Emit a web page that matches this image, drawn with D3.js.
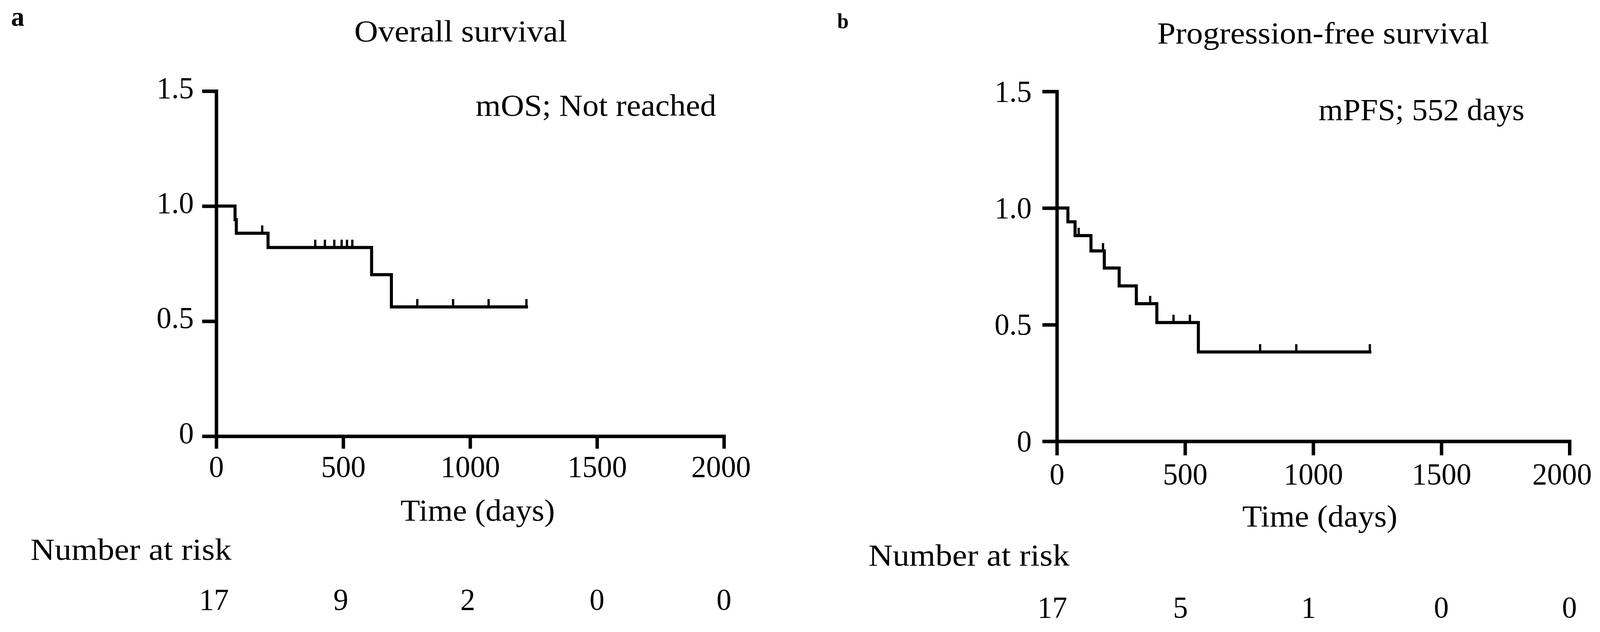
<!DOCTYPE html>
<html>
<head>
<meta charset="utf-8">
<script src="https://cdn.jsdelivr.net/npm/d3@7"></script>
<style>
  html, body { margin: 0; padding: 0; background: #fff; overflow: hidden; width: 100%; height: 100%; }
  svg { display: block; width: 100vw; height: 100vh; }
  text { font-family: "Liberation Serif", "Times New Roman", serif; fill: #000; }
</style>
</head>
<body>
<svg id="chart" viewBox="0 0 4195 1617" preserveAspectRatio="none"></svg>
<script>
// ---------- data ----------
const xTicks = [0, 500, 1000, 1500, 2000];
const yTicks = [0, 0.5, 1.0, 1.5];
const yTickLabels = ["0", "0.5", "1.0", "1.5"];

// Panel a: overall survival (step times in days, survival after step)
const osTimes = [0, 74, 79, 204, 612, 690, 1222];
const osSurv  = [1.0, 0.941, 0.882, 0.820, 0.702, 0.562, 0.562];
const osCensor = [181, 390, 428, 465, 494, 515, 536, 792, 933, 1073, 1222];
const osRisk = [17, 9, 2, 0, 0];

// Panel b: progression-free survival
const pfsTimes = [0, 43, 71, 133, 185, 243, 310, 390, 552, 1221];
const pfsSurv  = [1.0, 0.941, 0.882, 0.816, 0.743, 0.666, 0.590, 0.509, 0.383, 0.383];
const pfsCensor = [85, 180, 364, 455, 519, 793, 934, 1221];
const pfsRisk = [17, 5, 1, 0, 0];

const panels = [
  {
    letter: "a", title: "Overall survival", median: "mOS; Not reached",
    times: osTimes, surv: osSurv, censor: osCensor, risk: osRisk,
    x0: 567, x1: 1898, y0: 1116, y1: 233,
    yTick: 37, xTick: 32, yPad: 22, xPad: 17, yDy: 17, fs: 78, lastShift: -8, riskShift: -6,
    letterPos: [29, 66, 70], titlePos: [929, 106, 558], medPos: [1247, 296, 631],
    xLabPos: [1050, 1332, 405], nriskPos: [80, 1432, 527], riskY: 1560
  },
  {
    letter: "b", title: "Progression-free survival", median: "mPFS; 552 days",
    times: pfsTimes, surv: pfsSurv, censor: pfsCensor, risk: pfsRisk,
    x0: 2771, x1: 4115, y0: 1129, y1: 234,
    yTick: 38, xTick: 36, yPad: 28, xPad: 19, yDy: 25, fs: 78, lastShift: -20, riskShift: -12,
    letterPos: [2195, 72, 54], titlePos: [3034, 111, 870], medPos: [3457, 307, 540],
    xLabPos: [3257, 1347, 407], nriskPos: [2277, 1447, 527], riskY: 1580
  }
];

const svg = d3.select("#chart");

function stepValue(times, surv, t) {
  let v = surv[0];
  for (let i = 0; i < times.length; i++) { if (times[i] <= t) v = surv[i]; }
  return v;
}

panels.forEach(p => {
  const x = d3.scaleLinear().domain([0, 2000]).range([p.x0, p.x1]);
  const y = d3.scaleLinear().domain([0, 1.5]).range([p.y0, p.y1]);
  const g = svg.append("g");

  // Axes
  const yAxis = d3.axisLeft(y).tickValues(yTicks)
    .tickFormat((d, i) => yTickLabels[i])
    .tickSize(p.yTick).tickSizeOuter(0).tickPadding(p.yPad);
  const xAxis = d3.axisBottom(x).tickValues(xTicks)
    .tickFormat(d3.format("d"))
    .tickSize(p.xTick).tickSizeOuter(0).tickPadding(p.xPad);

  const gy = g.append("g").attr("transform", `translate(${p.x0},0)`).call(yAxis);
  const gx = g.append("g").attr("transform", `translate(0,${p.y0})`).call(xAxis);
  [gx, gy].forEach(a => {
    a.select(".domain").attr("stroke", "#000").attr("stroke-width", 9).attr("stroke-linecap", "square");
    a.selectAll(".tick line").attr("stroke", "#000").attr("stroke-width", 9);
    a.selectAll(".tick text").attr("font-family", "Liberation Serif").attr("font-size", p.fs).attr("fill", "#000");
  });
  gy.selectAll(".tick text").attr("dy", p.yDy);
  gx.selectAll(".tick text").filter(d => d === 2000).attr("dx", p.lastShift);

  // KM step curve
  const pts = p.times.map((t, i) => [t, p.surv[i]]);
  const line = d3.line().x(d => x(d[0])).y(d => y(d[1])).curve(d3.curveStepAfter);
  g.append("path").datum(pts)
    .attr("d", line).attr("fill", "none").attr("stroke", "#000")
    .attr("stroke-width", 8).attr("stroke-linejoin", "miter").attr("stroke-linecap", "square");

  // Censor marks
  g.selectAll(".cens").data(p.censor).enter().append("line")
    .attr("x1", d => x(d)).attr("x2", d => x(d))
    .attr("y1", d => y(stepValue(p.times, p.surv, d)))
    .attr("y2", d => y(stepValue(p.times, p.surv, d)) - 20)
    .attr("stroke", "#000").attr("stroke-width", 6);

  // Texts
  g.append("text").attr("x", p.letterPos[0]).attr("y", p.letterPos[1])
    .attr("font-size", p.letterPos[2]).attr("font-weight", "bold").text(p.letter);
  const txt = (pos, s) => g.append("text").attr("x", pos[0]).attr("y", pos[1])
    .attr("font-size", p.fs).attr("textLength", pos[2]).attr("lengthAdjust", "spacingAndGlyphs").text(s);
  txt(p.titlePos, p.title);
  txt(p.medPos, p.median);
  txt(p.xLabPos, "Time (days)");
  txt(p.nriskPos, "Number at risk");

  g.selectAll(".risk").data(p.risk).enter().append("text")
    .attr("x", (d, i) => x(xTicks[i]) + (i < 3 ? p.riskShift : 0)).attr("y", p.riskY)
    .attr("text-anchor", "middle").attr("font-size", p.fs).text(d => d);
});
</script>
</body>
</html>
